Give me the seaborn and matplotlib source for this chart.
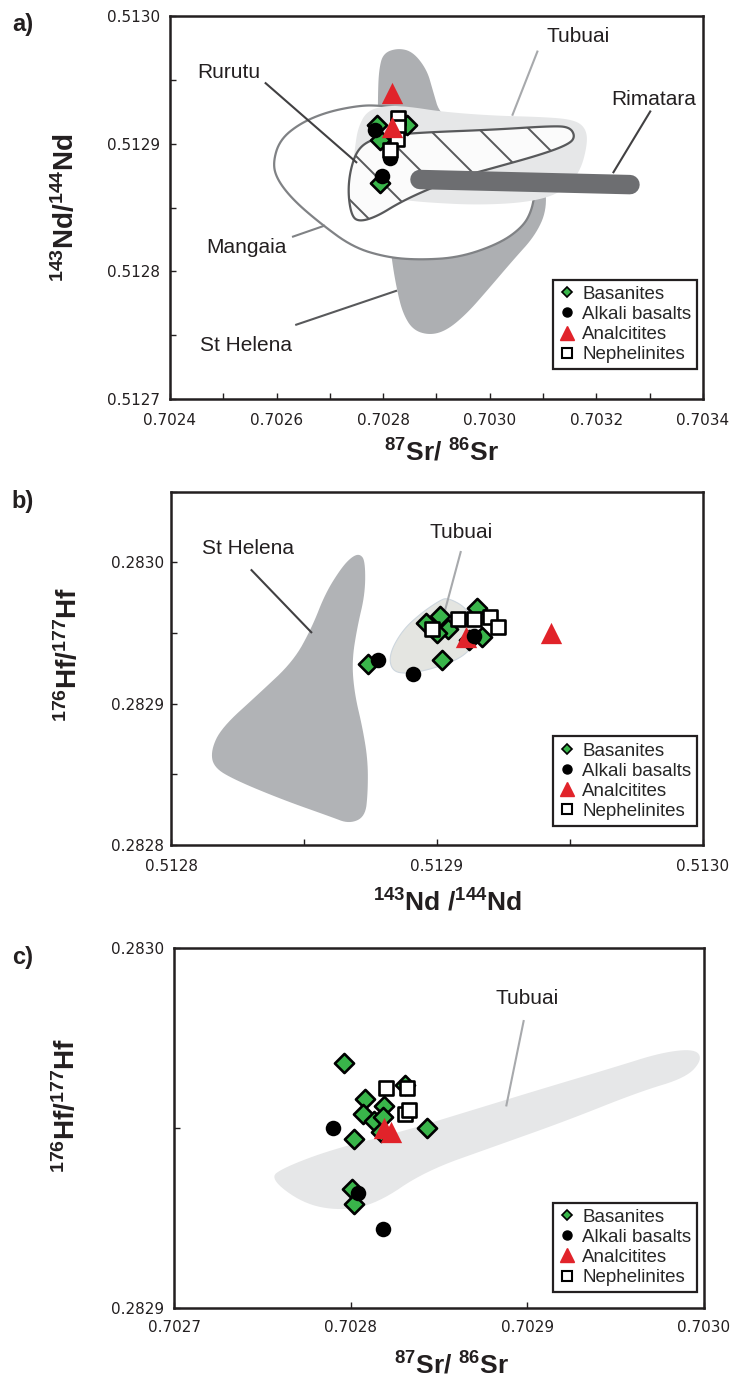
import numpy as np
import pandas as pd
import matplotlib
matplotlib.use("Agg")
import matplotlib.pyplot as plt
import seaborn as sns
from matplotlib.lines import Line2D
from matplotlib.patches import Polygon
from matplotlib.ticker import MultipleLocator, FormatStrFormatter
from matplotlib.backend_bases import GraphicsContextBase

# ---------------- data ----------------
types = ["Basanites", "Alkali basalts", "Analcitites", "Nephelinites"]

# panel a: 87Sr/86Sr vs 143Nd/144Nd
a_bas_sr = [0.702788, 0.702794, 0.702845, 0.702794]
a_bas_nd = [0.512915, 0.512903, 0.512915, 0.512869]
a_alk_sr = [0.702785, 0.702813, 0.702798]
a_alk_nd = [0.512911, 0.512889, 0.512875]
a_ana_sr = [0.702817, 0.702817]
a_ana_nd = [0.512940, 0.512913]
a_nep_sr = [0.702828, 0.702828, 0.702826, 0.702813]
a_nep_nd = [0.512920, 0.512913, 0.512904, 0.512895]

# panel b: 143Nd/144Nd vs 176Hf/177Hf
b_bas_nd = [0.512874, 0.512896, 0.512901, 0.512904, 0.512900, 0.512915, 0.512917, 0.512902, 0.512912]
b_bas_hf = [0.282928, 0.282957, 0.282962, 0.282953, 0.282950, 0.282968, 0.282947, 0.282931, 0.282945]
b_alk_nd = [0.512878, 0.512891, 0.512914]
b_alk_hf = [0.282931, 0.282921, 0.282948]
b_ana_nd = [0.512911, 0.512943]
b_ana_hf = [0.282947, 0.282950]
b_nep_nd = [0.512898, 0.512908, 0.512914, 0.512920, 0.512923]
b_nep_hf = [0.282953, 0.282960, 0.282960, 0.282961, 0.282954]

# panel c: 87Sr/86Sr vs 176Hf/177Hf
c_bas_sr = [0.702796, 0.702808, 0.702819, 0.702807, 0.702813, 0.702817, 0.702818, 0.702802, 0.702843, 0.702801, 0.702802, 0.702831]
c_bas_hf = [0.282968, 0.282958, 0.282956, 0.282954, 0.282952, 0.282949, 0.282953, 0.282947, 0.282950, 0.282933, 0.282929, 0.282962]
c_alk_sr = [0.702790, 0.702804, 0.702818]
c_alk_hf = [0.282950, 0.282932, 0.282922]
c_ana_sr = [0.702819, 0.702823]
c_ana_hf = [0.282950, 0.282949]
c_nep_sr = [0.702820, 0.702832, 0.702831, 0.702833]
c_nep_hf = [0.282961, 0.282961, 0.282954, 0.282955]

# literature fields (outlines, data units)
a_sthelena_x = [0.702828, 0.702856, 0.702882, 0.702893, 0.702907, 0.702963, 0.703057, 0.703103, 0.703107, 0.703085,
                0.703044, 0.702995, 0.702957, 0.702920, 0.702888, 0.702856, 0.702837, 0.702826, 0.702816, 0.702803,
                0.702790, 0.702790, 0.702792, 0.702800]
a_sthelena_y = [0.512975, 0.512972, 0.512958, 0.512942, 0.512922, 0.512911, 0.512895, 0.512872, 0.512848, 0.512828,
                0.512809, 0.512785, 0.512767, 0.512754, 0.512750, 0.512754, 0.512767, 0.512785, 0.512809, 0.512856,
                0.512903, 0.512937, 0.512958, 0.512971]
a_mangaia_x = [0.702593, 0.702606, 0.702644, 0.702695, 0.702756, 0.702794, 0.702882, 0.703006, 0.703070, 0.703085,
               0.703079, 0.703062, 0.703019, 0.702944, 0.702869, 0.702807, 0.702743, 0.702681, 0.702631, 0.702601]
a_mangaia_y = [0.512885, 0.512903, 0.512916, 0.512925, 0.512930, 0.512930, 0.512926, 0.512903, 0.512879, 0.512864,
               0.512848, 0.512835, 0.512822, 0.512811, 0.512809, 0.512811, 0.512819, 0.512838, 0.512856, 0.512872]
a_tubuai_x = [0.702770, 0.702807, 0.702850, 0.702912, 0.703006, 0.703100, 0.703156, 0.703179, 0.703184, 0.703169,
              0.703132, 0.703070, 0.702976, 0.702882, 0.702837, 0.702794, 0.702756, 0.702741, 0.702747, 0.702753]
a_tubuai_y = [0.512926, 0.512930, 0.512929, 0.512925, 0.512922, 0.512921, 0.512919, 0.512913, 0.512901, 0.512877,
              0.512861, 0.512854, 0.512852, 0.512854, 0.512856, 0.512856, 0.512860, 0.512875, 0.512897, 0.512913]
a_rurutu_x = [0.702734, 0.702738, 0.702751, 0.702775, 0.702818, 0.702882, 0.703006, 0.703119, 0.703150, 0.703160,
              0.703150, 0.703100, 0.703006, 0.702944, 0.702882, 0.702831, 0.702788, 0.702756, 0.702741]
a_rurutu_y = [0.512861, 0.512879, 0.512895, 0.512903, 0.512907, 0.512909, 0.512911, 0.512914, 0.512913, 0.512906,
              0.512900, 0.512892, 0.512881, 0.512874, 0.512864, 0.512854, 0.512843, 0.512839, 0.512843]
a_rimatara_x = [0.702869, 0.703263]
a_rimatara_y = [0.512872, 0.512868]

b_sthelena_x = [0.512871, 0.512873, 0.512873, 0.512870, 0.512868, 0.512869, 0.512872, 0.512874, 0.512874, 0.512873,
                0.512867, 0.512860, 0.512842, 0.512824, 0.512816, 0.512815, 0.512819, 0.512833, 0.512846, 0.512853,
                0.512858, 0.512864, 0.512868]
b_sthelena_y = [0.283006, 0.283001, 0.282978, 0.282954, 0.282930, 0.282907, 0.282883, 0.282860, 0.282837, 0.282820,
                0.282815, 0.282820, 0.282832, 0.282846, 0.282855, 0.282867, 0.282883, 0.282907, 0.282930, 0.282954,
                0.282978, 0.282996, 0.283004]
b_tubuai_x = [0.512904, 0.512911, 0.512915, 0.512915, 0.512910, 0.512899, 0.512889, 0.512883, 0.512882, 0.512887,
              0.512894, 0.512901]
b_tubuai_y = [0.282975, 0.282968, 0.282954, 0.282945, 0.282933, 0.282925, 0.282921, 0.282923, 0.282935, 0.282952,
              0.282964, 0.282973]

c_tubuai_x = [0.702754, 0.702773, 0.702794, 0.702815, 0.702842, 0.702882, 0.702922, 0.702963, 0.702990, 0.702999,
              0.702995, 0.702976, 0.702950, 0.702909, 0.702869, 0.702829, 0.702789, 0.702762]
c_tubuai_y = [0.282936, 0.282929, 0.282927, 0.282929, 0.282938, 0.282945, 0.282952, 0.282960, 0.282964, 0.282969,
              0.282972, 0.282971, 0.282967, 0.282961, 0.282955, 0.282949, 0.282944, 0.282939]

# field labels: (text, label x, label y, leader x0, y0, x1, y1, leader colour)
a_labels = [("Tubuai", 0.703165, 0.512984, 0.703090, 0.512973, 0.703042, 0.512922, "#a7a9ac"),
            ("Rurutu", 0.702511, 0.512956, 0.702578, 0.512948, 0.702751, 0.512885, "#414042"),
            ("Rimatara", 0.703308, 0.512935, 0.703302, 0.512926, 0.703231, 0.512877, "#414042"),
            ("Mangaia", 0.702543, 0.512819, 0.702629, 0.512827, 0.702691, 0.512836, "#808285"),
            ("St Helena", 0.702543, 0.512742, 0.702635, 0.512758, 0.702826, 0.512785, "#58595b")]
b_labels = [("St Helena", 0.512829, 0.283010, 0.512830, 0.282995, 0.512853, 0.282950, "#414042"),
            ("Tubuai", 0.512909, 0.283021, 0.512909, 0.283008, 0.512903, 0.282966, "#a7a9ac")]
c_labels = [("Tubuai", 0.702900, 0.282986, 0.702898, 0.282980, 0.702888, 0.282956, "#a7a9ac")]

# ---------------- style ----------------
sns.set_theme(style="white")
plt.rcParams["font.family"] = ["Liberation Sans", "DejaVu Sans"]
plt.rcParams["mathtext.fontset"] = "custom"
plt.rcParams["mathtext.rm"] = "Liberation Sans"
plt.rcParams["mathtext.bf"] = "Liberation Sans:bold"
plt.rcParams["mathtext.it"] = "Liberation Sans:italic"
plt.rcParams["hatch.linewidth"] = 1.4
plt.rcParams["hatch.color"] = "#414042"

_ghp = GraphicsContextBase.get_hatch_path


def _sparse_hatch(self, density=4.0):
    return _ghp(self, density)


GraphicsContextBase.get_hatch_path = _sparse_hatch

DARK = "#231f20"
GREEN = "#39b54a"
RED = "#e1232a"

specs = {
    "Basanites": dict(marker="D", s=95, color=GREEN, edgecolor="black", linewidth=1.9, z=6),
    "Alkali basalts": dict(marker="o", s=125, color="black", edgecolor="black", linewidth=0, z=7),
    "Analcitites": dict(marker="^", s=235, color=RED, edgecolor=RED, linewidth=0, z=8),
    "Nephelinites": dict(marker="s", s=115, color="white", edgecolor="black", linewidth=1.9, z=9),
}


def smooth(xs, ys, n=3):
    p = np.column_stack([xs, ys]).astype(float)
    for _ in range(n):
        q = np.roll(p, -1, axis=0)
        a = 0.75 * p + 0.25 * q
        b = 0.25 * p + 0.75 * q
        p = np.empty((2 * len(a), 2))
        p[0::2] = a
        p[1::2] = b
    return p


def field(ax, xs, ys, z, **kw):
    ax.add_patch(Polygon(smooth(xs, ys), closed=True, zorder=z, **kw))


def make_df(groups):
    rows = []
    for t, (xs, ys) in zip(types, groups):
        for x, y in zip(xs, ys):
            rows.append((x, y, t))
    return pd.DataFrame(rows, columns=["x", "y", "type"])


def draw_points(ax, df, order):
    for t in order:
        sp = specs[t]
        sns.scatterplot(data=df[df["type"] == t], x="x", y="y", marker=sp["marker"], s=sp["s"],
                        color=sp["color"], edgecolor=sp["edgecolor"], linewidth=sp["linewidth"],
                        ax=ax, legend=False, zorder=sp["z"])


def add_labels(ax, labels):
    for txt, lx, ly, x0, y0, x1, y1, col in labels:
        ax.text(lx, ly, txt, fontsize=15, ha="center", va="center", color=DARK, zorder=10)
        ax.plot([x0, x1], [y0, y1], color=col, lw=1.5, zorder=5.5, solid_capstyle="butt")


def legend(ax, anchor):
    hs = [Line2D([], [], ls="", marker="D", ms=4.6, mfc=GREEN, mec="black", mew=1.2),
          Line2D([], [], ls="", marker="o", ms=6.5, mfc="black", mec="black"),
          Line2D([], [], ls="", marker="^", ms=9.5, mfc=RED, mec=RED),
          Line2D([], [], ls="", marker="s", ms=7.0, mfc="white", mec="black", mew=1.5)]
    lg = ax.legend(hs, types, loc="lower right", bbox_to_anchor=anchor, borderaxespad=0,
                   frameon=True, fancybox=False, edgecolor=DARK, framealpha=1, fontsize=13.5,
                   handlelength=0.9, handletextpad=0.35, labelspacing=0.16, borderpad=0.32)
    lg.get_frame().set_linewidth(1.6)
    lg.set_zorder(20)


def style_axes(ax, xlim, ylim, xmaj, xmin, ymaj, ymin, xpad, ypad):
    ax.set_xlim(*xlim)
    ax.set_ylim(*ylim)
    ax.xaxis.set_major_locator(MultipleLocator(xmaj))
    ax.yaxis.set_major_locator(MultipleLocator(ymaj))
    if xmin:
        ax.xaxis.set_minor_locator(MultipleLocator(xmin))
    if ymin:
        ax.yaxis.set_minor_locator(MultipleLocator(ymin))
    ax.xaxis.set_major_formatter(FormatStrFormatter("%.4f"))
    ax.yaxis.set_major_formatter(FormatStrFormatter("%.4f"))
    for s in ax.spines.values():
        s.set_linewidth(1.8)
        s.set_color(DARK)
        s.set_zorder(15)
    ax.tick_params(which="both", direction="in", length=4, width=1, color=DARK,
                   bottom=True, left=True, top=False, right=False)
    ax.tick_params(axis="x", which="major", pad=xpad, labelsize=11, labelcolor=DARK,
                   labelfontfamily="DejaVu Sans")
    ax.tick_params(axis="y", which="major", pad=ypad, labelsize=11, labelcolor=DARK,
                   labelfontfamily="DejaVu Sans")
    ax.grid(False)


fig = plt.figure(figsize=(7.39, 13.78), dpi=100)
axA = fig.add_axes([0.2300, 0.7104, 0.7213, 0.2779])
axB = fig.add_axes([0.2314, 0.3868, 0.7199, 0.2564])
axC = fig.add_axes([0.2355, 0.0508, 0.7172, 0.2612])

lab_sr = r"$^{\mathbf{87}}\mathbf{Sr/\ }^{\mathbf{86}}\mathbf{Sr}$"
lab_nd = r"$^{\mathbf{143}}\mathbf{Nd/}^{\mathbf{144}}\mathbf{Nd}$"
lab_ndx = r"$^{\mathbf{143}}\mathbf{Nd\ /}^{\mathbf{144}}\mathbf{Nd}$"
lab_hf = r"$^{\mathbf{176}}\mathbf{Hf/}^{\mathbf{177}}\mathbf{Hf}$"

# ---- panel a ----
field(axA, a_sthelena_x, a_sthelena_y, 1, facecolor="#adafb2", edgecolor="none")
field(axA, a_mangaia_x, a_mangaia_y, 2, facecolor="white", edgecolor="#808285", linewidth=1.6)
field(axA, a_tubuai_x, a_tubuai_y, 3, facecolor="#e6e7e8", edgecolor="none")
field(axA, a_rurutu_x, a_rurutu_y, 4, facecolor="#fbfbfb", edgecolor="#58595b", linewidth=1.6,
      hatch="\\")
axA.plot(a_rimatara_x, a_rimatara_y, color="#6d6e71", lw=14, solid_capstyle="round", zorder=5)
add_labels(axA, a_labels)
dfa = make_df([(a_bas_sr, a_bas_nd), (a_alk_sr, a_alk_nd), (a_ana_sr, a_ana_nd), (a_nep_sr, a_nep_nd)])
specs["Analcitites"]["z"] = 10
draw_points(axA, dfa, types)
style_axes(axA, (0.7024, 0.7034), (0.5127, 0.5130), 0.0002, 0.0001, 0.0001, 0.00005, 10, 7)
legend(axA, (0.989, 0.078))
axA.set_xlabel(lab_sr, fontsize=19, color=DARK)
axA.set_ylabel(lab_nd, fontsize=20, color=DARK)
axA.xaxis.set_label_coords(0.51, -0.105)
axA.yaxis.set_label_coords(-0.168, 0.50)

# ---- panel b ----
field(axB, b_sthelena_x, b_sthelena_y, 1, facecolor="#b1b3b6", edgecolor="none")
field(axB, b_tubuai_x, b_tubuai_y, 2, facecolor="#e4e5e1", edgecolor="#cdd6de", linewidth=0.8)
add_labels(axB, b_labels)
dfb = make_df([(b_bas_nd, b_bas_hf), (b_alk_nd, b_alk_hf), (b_ana_nd, b_ana_hf), (b_nep_nd, b_nep_hf)])
specs["Analcitites"]["z"] = 8
specs["Alkali basalts"]["z"] = 8.5
draw_points(axB, dfb, types)
style_axes(axB, (0.5128, 0.5130), (0.2828, 0.28305), 0.0001, 0.00005, 0.0001, 0.00005, 10, 5)
legend(axB, (0.989, 0.054))
axB.set_xlabel(lab_ndx, fontsize=19, color=DARK)
axB.set_ylabel(lab_hf, fontsize=20, color=DARK)
axB.xaxis.set_label_coords(0.519, -0.125)
axB.yaxis.set_label_coords(-0.165, 0.54)

# ---- panel c ----
field(axC, c_tubuai_x, c_tubuai_y, 1, facecolor="#e6e7e8", edgecolor="none")
add_labels(axC, c_labels)
dfc = make_df([(c_bas_sr, c_bas_hf), (c_alk_sr, c_alk_hf), (c_ana_sr, c_ana_hf), (c_nep_sr, c_nep_hf)])
specs["Alkali basalts"]["z"] = 7
draw_points(axC, dfc, types)
style_axes(axC, (0.7027, 0.7030), (0.2829, 0.2830), 0.0001, None, 0.0001, 0.00005, 9, 7)
legend(axC, (0.987, 0.044))
axC.set_xlabel(lab_sr, fontsize=19, color=DARK)
axC.set_ylabel(lab_hf, fontsize=20, color=DARK)
axC.xaxis.set_label_coords(0.524, -0.122)
axC.yaxis.set_label_coords(-0.175, 0.564)

for t, y in (("a)", 0.9819), ("b)", 0.636), ("c)", 0.3055)):
    fig.text(0.016, y, t, fontsize=17, fontweight="bold", ha="left", va="center", color=DARK)

fig.savefig("out.png", dpi=100)
